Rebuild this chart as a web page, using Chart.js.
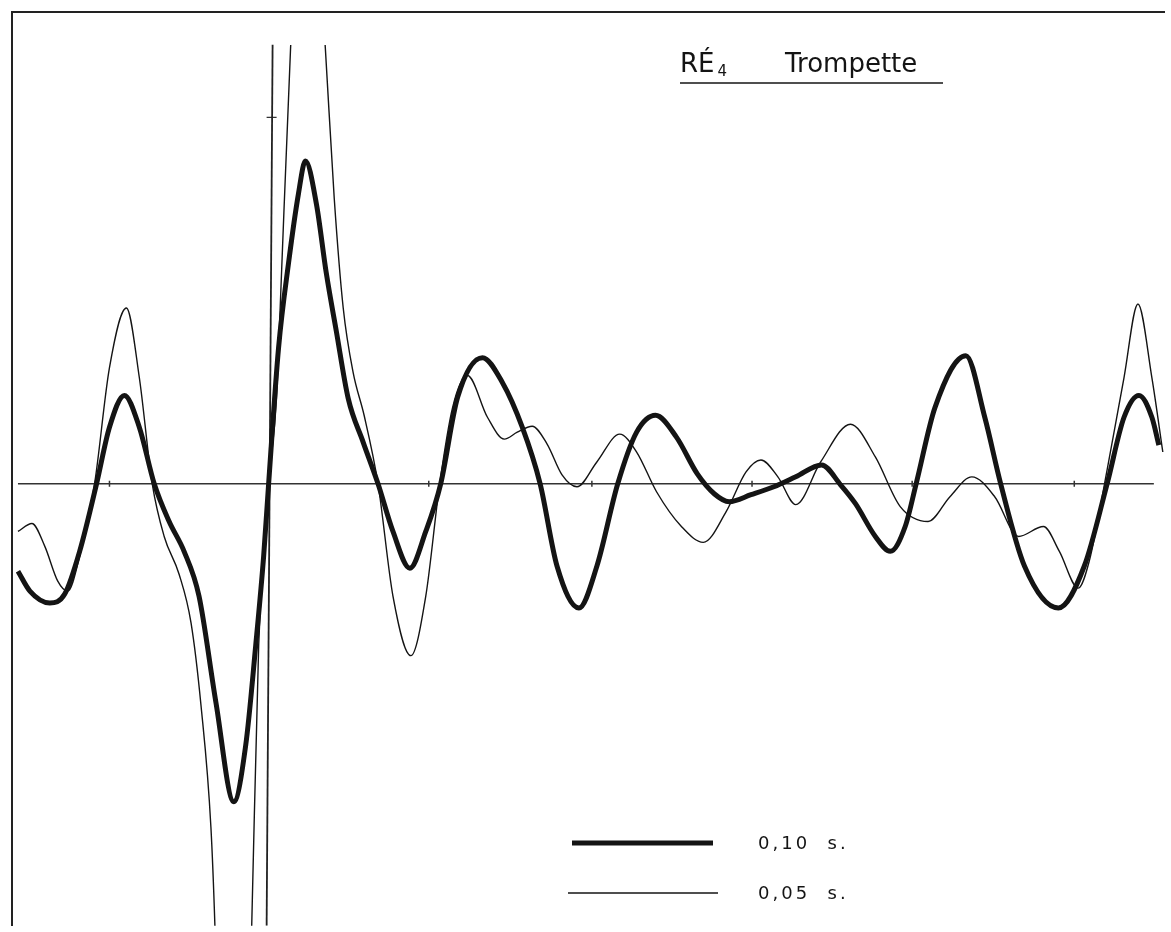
<!DOCTYPE html>
<html>
<head>
<meta charset="utf-8">
<title>RÉ4 Trompette</title>
<script src="https://cdn.jsdelivr.net/npm/chart.js@4.4.1/dist/chart.umd.min.js"></script>
<style>
  html, body { margin:0; padding:0; background:#fff; overflow:hidden; }
  #wave_chart { display:block; position:absolute; left:0; top:0; }
</style>
</head>
<body>
<canvas id="wave_chart" width="1171" height="932"></canvas>
<script>
// 0,10 s. (thick curve)
let thickT = [18, 30, 50, 65, 80, 97, 110, 125, 140, 155, 170, 185, 200, 217, 235, 247, 257, 265, 270,
  280, 290, 300, 307, 318, 328, 338, 350, 365, 380, 395, 412, 428, 443, 460, 485, 505, 525, 543,
  560, 582, 600, 621, 640, 659, 680, 701, 718, 733, 755, 778, 800, 826, 845, 860, 880, 895, 910,
  921, 940, 971, 990, 1006, 1030, 1064, 1090, 1113, 1130, 1145, 1158, 1165];
let thickV = [-8.8, -10.8, -12.0, -11.1, -6.8, 0, 5.7, 8.9, 5.7, 0, -3.8, -6.8, -11.3, -22.0, -32.0, -26.3, -16.3, -7.3, 0,
  13.7, 22.2, 29.2, 32.5, 28.2, 21.2, 15.4, 8.6, 4.2, 0, -4.8, -8.5, -4.8, 0, 8.7, 12.7, 10.2, 5.7, 0,
  -8.3, -12.5, -8.3, 0, 5.2, 6.9, 4.7, 1.0, -1.0, -1.8, -1.1, -0.3, 0.7, 1.9, -0.1, -2.0, -5.3, -6.8, -4.3,
  0, 7.7, 12.9, 6.7, 0, -8.3, -12.5, -8.3, 0, 6.7, 8.9, 6.7, 3.9];

// 0,05 s. (thin curve)
let thinT = [18, 32, 45, 58, 68, 80, 95, 110, 127, 140, 153, 165, 180, 192, 202, 212, 216, 222,
  247, 253, 260, 265, 270, 278, 282, 292, 308, 327, 336, 345, 355, 366, 380, 395, 413, 428, 442,
  455, 470, 490, 507, 520, 535, 550, 565, 580, 600, 623, 640, 660, 685, 707, 730, 750, 765, 782,
  800, 825, 855, 880, 905, 933, 955, 977, 1000, 1024, 1049, 1065, 1084, 1095, 1113, 1130, 1144, 1158, 1169];
let thinV = [-4.8, -4.0, -6.3, -9.8, -10.8, -7.3, 0, 11.7, 17.7, 10.7, 0, -5.3, -9.1, -14.0, -22.3, -34.6, -44.5, -66.3,
  -66.3, -44.5, -16.3, -7.3, 0, 8.7, 18.7, 43.7, 73.7, 43.9, 28.7, 17.7, 11.2, 6.9, 0, -11.3, -17.3, -11.3, 0,
  7.7, 10.9, 6.7, 4.5, 5.2, 5.8, 4.0, 0.9, -0.3, 2.2, 5.0, 3.2, -0.8, -4.3, -5.9, -2.8, 1.2, 2.4, 0.7,
  -2.1, 2.2, 6.0, 2.7, -2.3, -3.8, -1.3, 0.7, -1.3, -5.3, -4.3, -6.8, -10.5, -7.8, 1.4, 10.7, 18.1, 10.7, 3.2];

// axis, its small ticks, and the vertical marker line
let axisT = [18, 1160];
let axisTicks = [110, 431, 595, 756, 917, 1080];
let markT = [274, 268];
let markV = [44.2, -44.5];
let markTickV = [36.9];

let seriesLabels = ['0,10  s.', '0,05  s.'];
let titleNote = 'RÉ';
let titleSub = '4';
let titleInstr = 'Trompette';

function toPoints(ts, vs) {
  return ts.map((t, i) => ({ x: t, y: vs[i] }));
}

const ink = '#141414';

// title + hand drawn legend
const notesPlugin = {
  id: 'notes',
  afterDraw(chart) {
    const c = chart.ctx;
    c.save();
    c.fillStyle = ink;
    c.strokeStyle = ink;
    c.textBaseline = 'alphabetic';

    c.font = '26px "DejaVu Sans", sans-serif';
    c.fillText(titleNote, 680, 72);
    let w = c.measureText(titleNote).width;
    c.font = '15px "DejaVu Sans", sans-serif';
    c.fillText(titleSub, 680 + w + 3, 76);
    c.font = '26px "DejaVu Sans", sans-serif';
    c.fillText(titleInstr, 785, 72);
    c.lineWidth = 1.6;
    c.beginPath();
    c.moveTo(680, 83);
    c.lineTo(943, 83);
    c.stroke();

    // legende
    let rows = [
      { ds: chart.data.datasets[0], x0: 572, x1: 713, y: 843 },
      { ds: chart.data.datasets[1], x0: 568, x1: 718, y: 893 }
    ];
    c.font = '18px "DejaVu Sans", sans-serif';
    c.letterSpacing = '3px';
    c.textBaseline = 'middle';
    rows.forEach((r, i) => {
      c.lineWidth = r.ds.borderWidth;
      c.strokeStyle = r.ds.borderColor;
      c.beginPath();
      c.moveTo(r.x0, r.y);
      c.lineTo(r.x1, r.y);
      c.stroke();
      c.fillText(seriesLabels[i], 758, r.y + 1);
    });
    c.restore();
  }
};

let content = document.getElementById('wave_chart');

new Chart(content, {
  type: 'line',
  data: {
    datasets: [
      {
        label: seriesLabels[0],
        data: toPoints(thickT, thickV),
        borderColor: ink,
        borderWidth: 5,
        pointRadius: 0,
        cubicInterpolationMode: 'monotone',
        fill: false
      },
      {
        label: seriesLabels[1],
        data: toPoints(thinT, thinV),
        borderColor: ink,
        borderWidth: 1.4,
        pointRadius: 0,
        cubicInterpolationMode: 'monotone',
        fill: false,
        clip: { left: 0, top: -33, right: 0, bottom: 0 }
      },
      {
        label: 'axe',
        data: toPoints(axisT, [0, 0]),
        borderColor: '#333',
        borderWidth: 1.5,
        pointRadius: 0
      },
      {
        label: 'reperes',
        data: toPoints(axisTicks, axisTicks.map(() => 0)),
        showLine: false,
        pointStyle: 'line',
        rotation: 90,
        pointRadius: 3,
        borderColor: '#333',
        borderWidth: 1.5
      },
      {
        label: 'trait',
        data: toPoints(markT, markV),
        borderColor: '#222',
        borderWidth: 1.8,
        pointRadius: 0
      },
      {
        label: 'trait-repere',
        data: toPoints([273], markTickV),
        showLine: false,
        pointStyle: 'line',
        pointRadius: 5,
        borderColor: '#333',
        borderWidth: 1.2
      }
    ]
  },
  options: {
    responsive: false,
    animation: false,
    layout: { padding: { left: 12, top: 12, right: 0, bottom: 0 } },
    scales: {
      x: {
        type: 'linear',
        position: 'top',
        min: 12,
        max: 1171,
        ticks: { display: false },
        grid: { display: false, drawTicks: false },
        border: { display: true, color: '#222', width: 2 }
      },
      y: {
        type: 'linear',
        min: -44.5,
        max: 47.5,
        ticks: { display: false },
        grid: { display: false, drawTicks: false },
        border: { display: true, color: '#222', width: 2 }
      }
    },
    plugins: {
      legend: { display: false },
      tooltip: { enabled: false }
    }
  },
  plugins: [notesPlugin]
});
</script>
</body>
</html>
